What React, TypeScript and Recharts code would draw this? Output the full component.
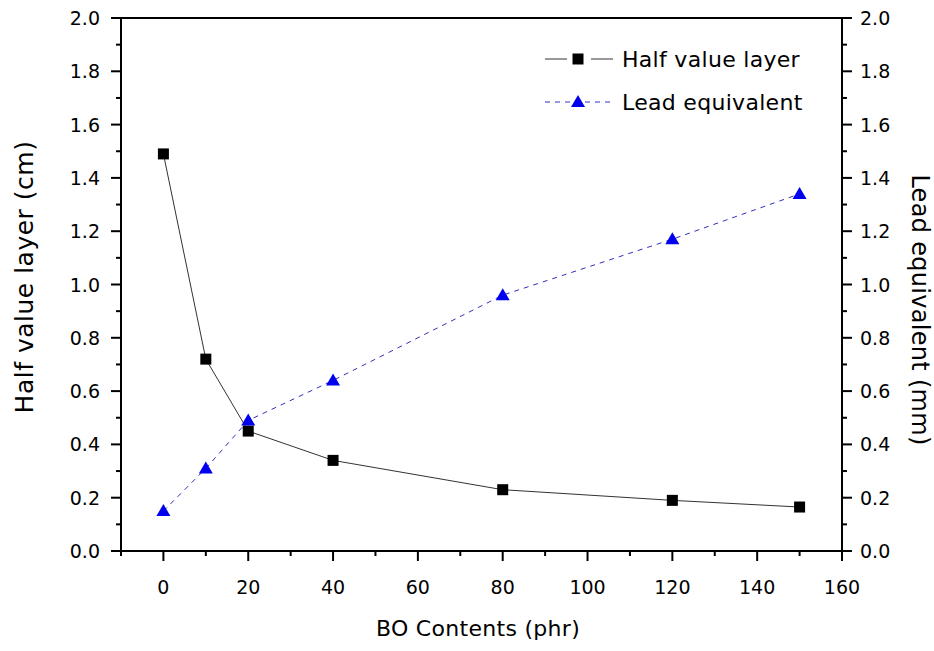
import React from "react";
import { ComposedChart, Line, XAxis, YAxis, Legend, ReferenceLine } from "recharts";

// BO content (phr)
const contents = [0, 10, 20, 40, 80, 120, 150];
// half value layer (cm)
const halfValueLayer = [1.49, 0.72, 0.45, 0.34, 0.23, 0.19, 0.165];
// lead equivalent (mm)
const leadEquivalent = [0.15, 0.31, 0.49, 0.64, 0.96, 1.17, 1.34];

const xTicks = [-10, 0, 10, 20, 30, 40, 50, 60, 70, 80, 90, 100, 110, 120, 130, 140, 150, 160];
const xMajor = [0, 20, 40, 60, 80, 100, 120, 140, 160];
const yTicks = [0, 0.1, 0.2, 0.3, 0.4, 0.5, 0.6, 0.7, 0.8, 0.9, 1.0, 1.1, 1.2, 1.3, 1.4, 1.5, 1.6, 1.7, 1.8, 1.9, 2.0];

const data = contents.map((c, i) => ({ c, hvl: halfValueLayer[i], lead: leadEquivalent[i] }));

const FONT = "'DejaVu Sans', sans-serif";

const isMajorY = (v: number) => Math.round(v * 10) % 2 === 0;

const XTick = (props: any) => {
  const { x, y, payload } = props;
  const v = payload.value;
  const major = xMajor.includes(v);
  return (
    <g>
      <line x1={x} y1={y} x2={x} y2={y + (major ? 10 : 5)} stroke="#000" strokeWidth={2} />
      {major && (
        <text x={x} y={y + 43} textAnchor="middle" fontSize={19} fill="#000">
          {v}
        </text>
      )}
    </g>
  );
};

const LeftTick = (props: any) => {
  const { x, y, payload } = props;
  const v = payload.value;
  const major = isMajorY(v);
  return (
    <g>
      <line x1={x} y1={y} x2={x - (major ? 10 : 5)} y2={y} stroke="#000" strokeWidth={2} />
      {major && (
        <text x={x - 21} y={y + 7} textAnchor="end" fontSize={19} fill="#000">
          {v.toFixed(1)}
        </text>
      )}
    </g>
  );
};

const RightTick = (props: any) => {
  const { x, y, payload } = props;
  const v = payload.value;
  const major = isMajorY(v);
  return (
    <g>
      <line x1={x} y1={y} x2={x + (major ? 10 : 5)} y2={y} stroke="#000" strokeWidth={2} />
      {major && (
        <text x={x + 18} y={y + 7} textAnchor="start" fontSize={19} fill="#000">
          {v.toFixed(1)}
        </text>
      )}
    </g>
  );
};

const SquareDot = (props: any) => {
  const { cx, cy, index } = props;
  return <rect key={index} x={cx - 5.5} y={cy - 5.5} width={11} height={11} fill="#000" />;
};

const TriangleDot = (props: any) => {
  const { cx, cy, index } = props;
  return <polygon key={index} points={`${cx},${cy - 7} ${cx - 7},${cy + 5} ${cx + 7},${cy + 5}`} fill="#0000ee" />;
};

const LegendBox = (props: any) => {
  const { payload } = props;
  return (
    <svg width={300} height={90} style={{ display: "block", fontFamily: FONT }}>
      {(payload || []).map((entry: any, i: number) => {
        const cy = 19 + i * 43;
        const isLead = entry.dataKey === "lead";
        return (
          <g key={entry.value}>
            {isLead ? (
              <line x1={5} y1={cy} x2={73} y2={cy} stroke="#3030c0" strokeWidth={1} strokeDasharray="5 5" />
            ) : (
              <>
                <line x1={5} y1={cy} x2={27} y2={cy} stroke="#333" strokeWidth={1} />
                <line x1={51} y1={cy} x2={73} y2={cy} stroke="#333" strokeWidth={1} />
              </>
            )}
            {isLead ? (
              <polygon points={`38,${cy - 7} 31,${cy + 5} 45,${cy + 5}`} fill="#0000ee" />
            ) : (
              <rect x={32.5} y={cy - 5.5} width={11} height={11} fill="#000" />
            )}
            <text x={82} y={cy + 8} fontSize={22} letterSpacing={0.3} fill="#000">
              {entry.value}
            </text>
          </g>
        );
      })}
    </svg>
  );
};

export default function App() {
  return (
    <div style={{ position: "absolute", left: 0, top: 0, width: 934, height: 651, background: "#fff", fontFamily: FONT }}>
      <ComposedChart width={934} height={651} data={data} margin={{ top: 18, right: 0, bottom: 0, left: 0 }}>
        <XAxis
          dataKey="c"
          type="number"
          domain={[-10, 160]}
          ticks={xTicks}
          interval={0}
          allowDataOverflow
          height={100}
          tickSize={0}
          tickMargin={0}
          tickLine={false}
          tick={<XTick />}
          axisLine={{ stroke: "#000", strokeWidth: 2 }}
        />
        <YAxis
          yAxisId="left"
          type="number"
          domain={[0, 2]}
          ticks={yTicks}
          interval={0}
          allowDataOverflow
          width={121}
          tickSize={0}
          tickMargin={0}
          tickLine={false}
          tick={<LeftTick />}
          axisLine={{ stroke: "#000", strokeWidth: 2 }}
        />
        <YAxis
          yAxisId="right"
          orientation="right"
          type="number"
          domain={[0, 2]}
          ticks={yTicks}
          interval={0}
          allowDataOverflow
          width={92}
          tickSize={0}
          tickMargin={0}
          tickLine={false}
          tick={<RightTick />}
          axisLine={{ stroke: "#000", strokeWidth: 2 }}
        />
        <ReferenceLine yAxisId="left" y={2} stroke="#000" strokeWidth={2} />
        <Legend
          layout="horizontal"
          verticalAlign="middle"
          align="center"
          content={<LegendBox />}
          wrapperStyle={{ left: 540, top: 40, width: 300, height: 90 }}
        />
        <Line
          yAxisId="left"
          dataKey="hvl"
          name="Half value layer"
          type="linear"
          stroke="#333"
          strokeWidth={1}
          dot={<SquareDot />}
          activeDot={false}
          isAnimationActive={false}
        />
        <Line
          yAxisId="right"
          dataKey="lead"
          name="Lead equivalent"
          type="linear"
          stroke="#3030c0"
          strokeWidth={1}
          strokeDasharray="5 5"
          dot={<TriangleDot />}
          activeDot={false}
          isAnimationActive={false}
        />
      </ComposedChart>
      <svg width={934} height={651} style={{ position: "absolute", left: 0, top: 0, pointerEvents: "none" }}>
        <text x={478} y={636} textAnchor="middle" fontSize={22} letterSpacing={0.3} fill="#000">
          BO Contents (phr)
        </text>
        <text x={33} y={277} textAnchor="middle" fontSize={25} letterSpacing={0.5} fill="#000" transform="rotate(-90 33 277)">
          Half value layer (cm)
        </text>
        <text x={912} y={310} textAnchor="middle" fontSize={24} letterSpacing={0.3} fill="#000" transform="rotate(90 912 310)">
          Lead equivalent (mm)
        </text>
      </svg>
    </div>
  );
}
